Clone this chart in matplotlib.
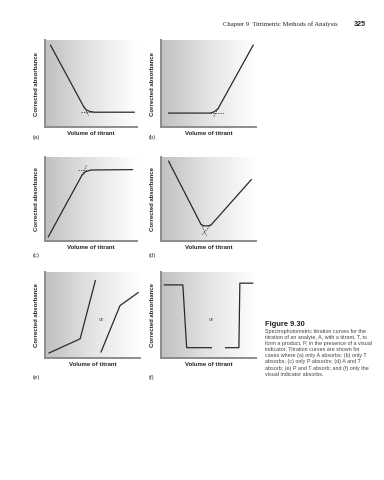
import numpy as np
import matplotlib
matplotlib.use('Agg')
import matplotlib.pyplot as plt
from matplotlib.colors import LinearSegmentedColormap

# ---- data (axes fraction units, 0..1) ----
a_x = [0.06, 0.42, 0.45, 0.49, 0.54, 0.97]
a_y = [0.94, 0.235, 0.195, 0.178, 0.17, 0.17]
a_dash_h = ([0.39, 0.56], [0.17, 0.17])
a_dash_s = ([0.42, 0.475], [0.235, 0.13])

b_x = [0.08, 0.52, 0.56, 0.60, 0.97]
b_y = [0.16, 0.16, 0.175, 0.21, 0.94]
b_dash_h = ([0.52, 0.66], [0.16, 0.16])
b_dash_s = ([0.60, 0.55], [0.21, 0.11])

c_x = [0.036, 0.40, 0.44, 0.50, 0.95]
c_y = [0.05, 0.78, 0.825, 0.845, 0.85]
c_dash_h = ([0.36, 0.50], [0.85, 0.85])
c_dash_s = ([0.40, 0.455], [0.78, 0.91])

d_x = [0.08, 0.42, 0.45, 0.50, 0.53, 0.95]
d_y = [0.95, 0.20, 0.18, 0.18, 0.195, 0.73]
d_dash_l = ([0.42, 0.48], [0.20, 0.06])
d_dash_r = ([0.53, 0.43], [0.195, 0.07])

e1_x = [0.042, 0.37, 0.53]
e1_y = [0.058, 0.223, 0.90]
e2_x = [0.59, 0.79, 0.98]
e2_y = [0.07, 0.61, 0.76]

f1_x = [0.035, 0.23, 0.27, 0.53]
f1_y = [0.85, 0.85, 0.12, 0.12]
f2_x = [0.68, 0.82, 0.83, 0.965]
f2_y = [0.12, 0.12, 0.87, 0.87]

panel_labels = ['(a)', '(b)', '(c)', '(d)', '(e)', '(f)']
xlabel = 'Volume of titrant'
ylabel = 'Corrected absorbance'

caption = ['Spectrophotometric titration curves for the',
           'titration of an analyte, A, with a titrant, T, to',
           'form a product, P, in the presence of a visual',
           'indicator. Titration curves are shown for',
           'cases where (a) only A absorbs; (b) only T',
           'absorbs; (c) only P absorbs; (d) A and T',
           'absorb; (e) P and T absorb; and (f) only the',
           'visual indicator absorbs.']

W, H = 384, 480
fig = plt.figure(figsize=(3.84, 4.8), dpi=100)

grad = LinearSegmentedColormap.from_list('g', ['#c0c0c0', '#e4e4e4', '#ffffff'])


def px_axes(x0, y0, x1, y1):
    ax = fig.add_axes((x0 / W, 1 - y1 / H, (x1 - x0) / W, (y1 - y0) / H))
    ax.imshow(np.linspace(0, 1, 256).reshape(1, -1), cmap=grad, extent=[0, 1, 0, 1],
              aspect='auto', zorder=0)
    ax.set_xlim(0, 1)
    ax.set_ylim(0, 1)
    ax.set_xticks([])
    ax.set_yticks([])
    for s in ['top', 'right']:
        ax.spines[s].set_visible(False)
    for s in ['left', 'bottom']:
        ax.spines[s].set_color('#8c8c8c')
        ax.spines[s].set_linewidth(1.4)
    ax.set_xlabel(xlabel, fontsize=4.3, fontweight='bold', family='Liberation Sans',
                  color='#222222', labelpad=3)
    ax.set_ylabel(ylabel, fontsize=4.3, fontweight='bold', family='Liberation Sans',
                  color='#222222', labelpad=4)
    return ax


boxes = [(45, 40, 137, 127), (161, 40, 256, 127),
         (45, 157, 137, 241), (161, 157, 256, 241),
         (45, 272, 140, 358), (161, 272, 256, 358)]
axs = [px_axes(*b) for b in boxes]

lc = '#2a2a2a'
lw = 0.9
dk = dict(color=lc, lw=0.5, ls=(0, (2, 1.5)))

axs[0].plot(a_x, a_y, color=lc, lw=lw)
axs[0].plot(*a_dash_h, **dk)
axs[0].plot(*a_dash_s, **dk)

axs[1].plot(b_x, b_y, color=lc, lw=lw)
axs[1].plot(*b_dash_h, **dk)
axs[1].plot(*b_dash_s, **dk)

axs[2].plot(c_x, c_y, color=lc, lw=lw)
axs[2].plot(*c_dash_h, **dk)
axs[2].plot(*c_dash_s, **dk)

axs[3].plot(d_x, d_y, color=lc, lw=lw)
axs[3].plot(*d_dash_l, **dk)
axs[3].plot(*d_dash_r, **dk)

axs[4].plot(e1_x, e1_y, color=lc, lw=lw)
axs[4].plot(e2_x, e2_y, color=lc, lw=lw)
axs[4].text(0.59, 0.45, 'or', fontsize=4.3, color='#666666', ha='center', va='center',
            family='Liberation Sans')

axs[5].plot(f1_x, f1_y, color=lc, lw=lw)
axs[5].plot(f2_x, f2_y, color=lc, lw=lw)
axs[5].text(0.53, 0.45, 'or', fontsize=4.3, color='#666666', ha='center', va='center',
            family='Liberation Sans')

# panel letters
pl_pos = [(33, 138), (149, 138), (33, 256), (149, 256), (33, 377), (149, 377)]
for lab, (x, y) in zip(panel_labels, pl_pos):
    fig.text(x / W, 1 - y / H, lab, fontsize=4.3, color='#333333', va='center',
             family='Liberation Sans')

# header
fig.text(223 / W, 1 - 24 / H, 'Chapter 9  Titrimetric Methods of Analysis', fontsize=4.8,
         family='Liberation Serif', color='#222222', va='center')
fig.text(354 / W, 1 - 24 / H, '325', fontsize=5.2, family='Liberation Sans',
         fontweight='bold', color='#222222', va='center')

# caption
fig.text(265 / W, 1 - 324 / H, 'Figure 9.30', fontsize=5.4, family='Liberation Sans',
         fontweight='bold', color='#222222', va='center')
for i, line in enumerate(caption):
    fig.text(265 / W, 1 - (331 + 6.2 * i) / H, line, fontsize=3.9,
             family='Liberation Sans', color='#444444', va='center')

fig.savefig('out.png', dpi=100)
